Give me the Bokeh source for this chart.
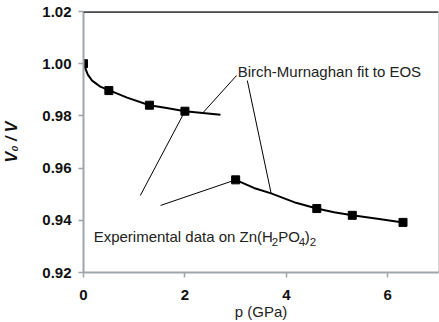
from bokeh.plotting import figure
from bokeh.models import Range1d, FixedTicker, NumeralTickFormatter, Label, Span
from bokeh.embed import file_html
from bokeh.resources import INLINE

# ---- data ----
exp_p = [0.0, 0.5, 1.3, 2.0, 3.0, 4.6, 5.3, 6.3]
exp_v = [1.000, 0.9897, 0.9841, 0.9818, 0.9555, 0.9445, 0.9419, 0.9392]

fit1_p = [0.0, 0.04, 0.085, 0.17, 0.33, 0.5, 0.86, 1.3, 1.64, 2.0, 2.35, 2.7]
fit1_v = [1.000, 0.998, 0.9958, 0.9935, 0.9912, 0.9899, 0.9870, 0.9841, 0.9830, 0.9818, 0.9811, 0.9804]

fit2_p = [3.0, 3.36, 3.7, 4.19, 4.6, 4.94, 5.3, 5.83, 6.3, 6.37]
fit2_v = [0.9555, 0.9524, 0.9503, 0.9467, 0.9445, 0.9431, 0.9419, 0.9405, 0.9392, 0.9388]

x_ticks = [0, 2, 4, 6]
y_ticks = [0.92, 0.94, 0.96, 0.98, 1.00, 1.02]

FONT = "Liberation Sans"
AXIS_GRAY = "#a0a5aa"
TXT = "#222222"

p = figure(width=439, height=322, output_backend="svg", toolbar_location=None,
           x_range=Range1d(0, 7), y_range=Range1d(0.92, 1.02),
           min_border_left=83, min_border_right=1, min_border_top=11, min_border_bottom=50,
           background_fill_color="white", border_fill_color="white")

p.grid.visible = False
p.outline_line_color = "#d4d4d4"
p.outline_line_width = 1

for ax in (p.xaxis[0], p.yaxis[0]):
    ax.axis_line_color = AXIS_GRAY
    ax.axis_line_width = 2
    ax.major_tick_line_color = AXIS_GRAY
    ax.major_tick_line_width = 1.5
    ax.major_tick_out = 5
    ax.major_tick_in = 0
    ax.minor_tick_line_color = None
    ax.major_label_text_font = FONT
    ax.major_label_text_font_style = "bold"
    ax.major_label_text_font_size = "15px"
    ax.major_label_text_color = "#111111"
    ax.axis_label_text_font = FONT
    ax.axis_label_text_font_size = "15px"
    ax.axis_label_text_color = TXT

p.xaxis.ticker = FixedTicker(ticks=x_ticks)
p.yaxis.ticker = FixedTicker(ticks=y_ticks)
p.xaxis.formatter = NumeralTickFormatter(format="0")
p.yaxis.formatter = NumeralTickFormatter(format="0.00")
p.xaxis.major_label_standoff = 12
p.yaxis.major_label_standoff = 7

p.xaxis.axis_label = "p (GPa)"
p.xaxis.axis_label_text_font_style = "normal"
p.xaxis.axis_label_standoff = 0
p.yaxis.axis_label = "V\u2080 / V"
p.yaxis.axis_label_text_font_style = "bold italic"
p.yaxis.axis_label_text_font_size = "16px"
p.yaxis.axis_label_text_color = "#111111"
p.yaxis.axis_label_standoff = 19

# top black border
p.add_layout(Span(location=y_ticks[-1], dimension="width", line_color="#111111", line_width=2.5))

# fitted curves
p.line(fit1_p, fit1_v, line_color="black", line_width=2)
p.line(fit2_p, fit2_v, line_color="black", line_width=2)

# leader lines (annotation anchors near the texts)
bm_x0 = [3.02, 3.23]
bm_y0 = [0.9955, 0.99356]
p.segment(x0=bm_x0, y0=bm_y0, x1=[fit1_p[10], fit2_p[2]], y1=[fit1_v[10], fit2_v[2]],
          line_color="black", line_width=1)
ex_x0 = [1.12, 1.52]
ex_y0 = [0.9495, 0.9457]
p.segment(x0=ex_x0, y0=ex_y0, x1=[exp_p[3], exp_p[4]], y1=[exp_v[3], exp_v[4]],
          line_color="black", line_width=1)

# experimental points
p.scatter(exp_p, exp_v, marker="square", size=8, fill_color="black", line_color="black")

# annotation texts
p.add_layout(Label(x=3.04, y=0.99713, text="Birch-Murnaghan fit to EOS", text_font=FONT,
                   text_font_size="15px", text_color=TXT, text_baseline="alphabetic"))

ex_x, ex_y = 0.2, 0.9338
pieces = [("Experimental data on Zn(H", 0, 0, "15px"),
          ("2", 178, -6, "11.5px"),
          ("PO", 184.5, 0, "15px"),
          ("4", 205, -6, "11.5px"),
          (")", 211, 0, "15px"),
          ("2", 216, -6, "11.5px")]
for t, dx, dy, fs in pieces:
    p.add_layout(Label(x=ex_x, y=ex_y, x_offset=dx, y_offset=dy, text=t, text_font=FONT,
                       text_font_size=fs, text_color=TXT, text_baseline="alphabetic"))

open("out.html", "w").write(file_html(p, INLINE))
